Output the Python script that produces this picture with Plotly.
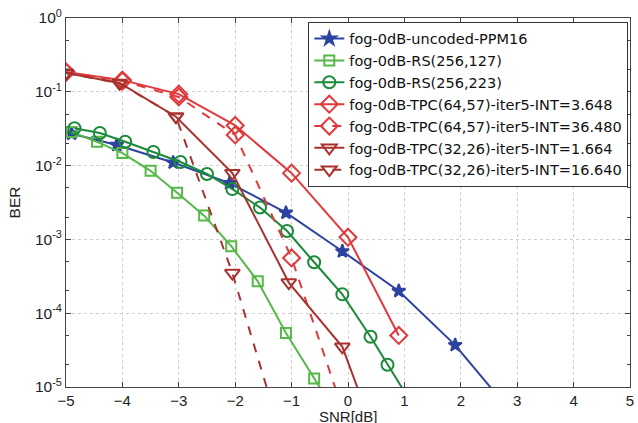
import plotly.graph_objects as go

# ---- data ----
unc_x = [-4.9, -4.1, -3.1, -2.1, -1.1, -0.1, 0.9, 1.9, 2.9]
unc_y = [0.027, 0.019, 0.011, 0.0058, 0.0023, 6.9e-4, 2.0e-4, 3.7e-5, 4.5e-6]

rs127_x = [-4.9, -4.45, -4.0, -3.5, -3.03, -2.55, -2.07, -1.6, -1.1, -0.6, -0.1]
rs127_y = [0.0285, 0.021, 0.0148, 0.0085, 0.0043, 0.0021, 8.1e-4, 2.7e-4, 5.4e-5, 1.3e-5, 3.2e-6]

rs223_x = [-4.85, -4.4, -3.95, -3.45, -2.97, -2.5, -2.05, -1.56, -1.08, -0.6, -0.1, 0.4, 0.7, 1.1]
rs223_y = [0.032, 0.0276, 0.021, 0.0153, 0.0112, 0.0077, 0.0048, 0.0027, 0.0013, 4.9e-4, 1.8e-4, 4.8e-5, 2.0e-5, 6.5e-6]

tpc64a_x = [-5, -4, -3, -2, -1, 0, 0.9]
tpc64a_y = [0.185, 0.144, 0.093, 0.035, 0.0079, 0.00107, 5.0e-5]

tpc64b_x = [-5, -4, -3, -2, -1, 0]
tpc64b_y = [0.185, 0.14, 0.085, 0.026, 5.6e-4, 3e-6]

tpc32a_x = [-5, -4.05, -3.05, -2.05, -1.05, -0.1, 0.9]
tpc32a_y = [0.18, 0.132, 0.046, 0.0079, 2.6e-4, 3.5e-5, 3e-7]

tpc32b_x = [-5, -4.05, -3.05, -2.05, -1.05]
tpc32b_y = [0.18, 0.13, 0.046, 3.5e-4, 1e-6]

names = [
    "fog-0dB-uncoded-PPM16",
    "fog-0dB-RS(256,127)",
    "fog-0dB-RS(256,223)",
    "fog-0dB-TPC(64,57)-iter5-INT=3.648",
    "fog-0dB-TPC(64,57)-iter5-INT=36.480",
    "fog-0dB-TPC(32,26)-iter5-INT=1.664",
    "fog-0dB-TPC(32,26)-iter5-INT=16.640",
]

x_ticks = [-5, -4, -3, -2, -1, 0, 1, 2, 3, 4, 5]
y_tickvals = [1, 0.1, 0.01, 0.001, 1e-4, 1e-5]
y_ticktext = ["10<sup>0</sup>", "10<sup>-1</sup>", "10<sup>-2</sup>",
              "10<sup>-3</sup>", "10<sup>-4</sup>", "10<sup>-5</sup>"]
x_title = "SNR[dB]"
y_title = "BER"

BLUE = "#2d43a0"
LGREEN = "#55b848"
DGREEN = "#1b8a3a"
RED = "#e0393b"
DRED = "#a8322f"

series = [
    (unc_x, unc_y, BLUE, "solid", "star", 10),
    (rs127_x, rs127_y, LGREEN, "solid", "square-open", 10),
    (rs223_x, rs223_y, DGREEN, "solid", "circle-open", 12),
    (tpc64a_x, tpc64a_y, RED, "solid", "diamond-open", 13),
    (tpc64b_x, tpc64b_y, RED, "dash", "diamond-open", 13),
    (tpc32a_x, tpc32a_y, DRED, "solid", "triangle-down-open", 13),
    (tpc32b_x, tpc32b_y, DRED, "dash", "triangle-down-open", 13),
]

fig = go.Figure()
for (xs, ys, col, dash, sym, sz), nm in zip(series, names):
    fig.add_trace(go.Scatter(
        x=xs, y=ys, name=nm, mode="lines+markers",
        line=dict(color=col, width=2, dash=dash),
        marker=dict(symbol=sym, size=sz, color=col, line=dict(color=col, width=2)),
    ))

fig.update_layout(
    width=638, height=423,
    margin=dict(l=66, r=8, t=18, b=36),
    paper_bgcolor="white", plot_bgcolor="white",
    font=dict(family="Liberation Sans, Arial, sans-serif", size=15.5, color="#222"),
    legend=dict(
        x=0.997, y=0.99, xanchor="right", yanchor="top",
        bgcolor="white", bordercolor="#333", borderwidth=1,
        font=dict(family="DejaVu Sans, sans-serif", size=14.5, color="#111"),
        tracegroupgap=0,
    ),
    showlegend=True,
)
fig.add_annotation(
    text=x_title, xref="paper", yref="paper", x=0.5, y=-0.079,
    xanchor="center", yanchor="middle", showarrow=False,
    font=dict(size=15, color="#222"),
)
fig.update_xaxes(
    range=[-5, 5], tickvals=x_ticks, ticks="inside", ticklen=5,
    ticklabelstandoff=0, automargin=False, tickfont=dict(size=15),
    showline=True, linecolor="#444", linewidth=1, mirror="ticks",
    showgrid=True, gridcolor="#cfcfcf", griddash="dot", zeroline=False,
)
fig.update_yaxes(
    type="log", range=[-5, 0], tickvals=y_tickvals, ticktext=y_ticktext,
    ticks="inside", ticklen=5, automargin=False,
    minor=dict(ticks="inside", ticklen=3, showgrid=False, tickcolor="#444"),
    showline=True, linecolor="#444", linewidth=1, mirror="ticks",
    showgrid=True, gridcolor="#cfcfcf", griddash="dot", zeroline=False,
    title=dict(text=y_title, standoff=10, font=dict(size=15.5)),
)

fig.write_html("out.html")
